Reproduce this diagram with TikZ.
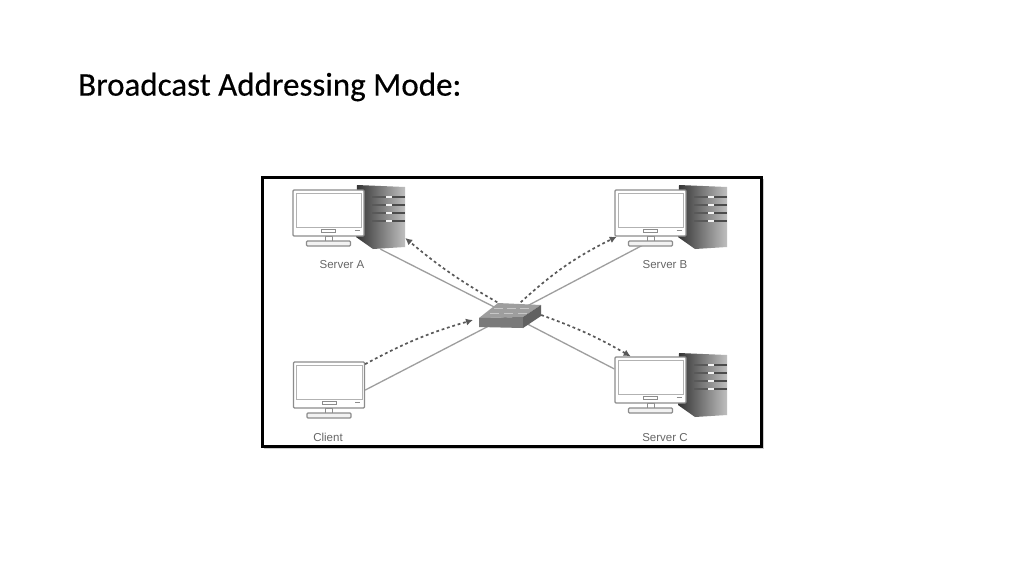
\documentclass[tikz,border=0pt]{standalone}
\usepackage{fontspec}
\setmainfont{Carlito}
\newfontfamily\titlefont[FakeBold=0.35]{Carlito}
\newfontfamily\labelfont{Liberation Sans}
\usetikzlibrary{arrows.meta}
\definecolor{linegray}{gray}{0.62}
\definecolor{framegray}{gray}{0.55}
\definecolor{labelgray}{gray}{0.4}
\tikzset{
	screenbox/.style={draw=framegray, line width=1.3, fill=white, minimum width=71, minimum height=46, inner sep=0, rounded corners=1},
	towerbox/.style={minimum width=49, minimum height=65, inner sep=0},
	switchbox/.style={minimum width=62, minimum height=25, inner sep=0},
	linkline/.style={draw=linegray, line width=1.3},
	bcast/.style={draw=black!65, line width=1.7, dash pattern=on 2.8 off 2.8, -{Latex[length=7,width=7]}},
	hostlabel/.style={text=labelgray, font=\labelfont\fontsize{11.5}{13}\selectfont, inner sep=0, anchor=base},
	pics/stand/.style={code={
		\draw [framegray, line width=1, fill=white] (-3.5,23) rectangle (3.5,29);
		\draw [framegray, line width=1.1, fill=black!5, rounded corners=1] (-22,28) rectangle (22,33);
	}},
	pics/bezel/.style={code={
		\draw [black!30, line width=.7] (-32.5,-20) rectangle (33,14);
		\draw [black!45, line width=.6] (-7,16.5) rectangle (7,19);
		\draw [black!45, line width=.6] (26,17.5) -- (31,17.5);
	}},
	pics/tower/.style={code={
		\shade [left color=black!80, right color=black!25] (1,1) -- (49,3) -- (49,63) -- (17,65) -- (0,53) -- cycle;
		\foreach \y in {13,21,29,37} {
			\draw [black!65, line width=1.2] (16,\y) -- (30,\y);
			\draw [black!5, line width=1.2] (30,\y) -- (36,\y);
			\draw [black!70, line width=1.2] (36,\y) -- (49,\y);
		}
	}}
}

\begin{document}
\begin{tikzpicture}[x=1pt,y=-1pt]
	\useasboundingbox (0,0) rectangle (1024,576);
	\node [anchor=west, inner sep=0, font=\titlefont\fontsize{33}{38}\selectfont] (title) at (78,87) {Broadcast Addressing Mode:};

	\fill [black!20] (264,179) rectangle (764,449);
	\node [draw=black, line width=3, fill=white, minimum width=499, minimum height=269, inner sep=0] (frame) at (512,312) {};

	\node [switchbox] (switch) at (510,315) {};
	\node [towerbox] (towerA) at (380.5,216.5) {};
	\coordinate (baseB) at (643,245);

	% server A
	\pic at (356,184) {tower};
	\draw [linkline] (switch.center) -- (towerA.south);
	\pic at (328.5,213) {stand};
	\node [screenbox] (screenA) at (328.5,213) {};
	\pic at (328.5,213) {bezel};
	\node [hostlabel] (labelA) at (342,268) {Server A};

	% server B
	\pic at (678,184) {tower};
	\draw [linkline] (switch.center) -- (baseB);
	\pic at (650.5,213) {stand};
	\node [screenbox] (screenB) at (650.5,213) {};
	\pic at (650.5,213) {bezel};
	\node [hostlabel] (labelB) at (665,268) {Server B};

	% server C
	\pic at (678,352) {tower};
	\pic at (650.5,380) {stand};
	\node [screenbox] (screenC) at (650.5,380) {};
	\pic at (650.5,380) {bezel};
	\draw [linkline] (switch.center) -- (screenC.163);
	\node [hostlabel] (labelC) at (665,441) {Server C};

	% client
	\pic at (329,385) {stand};
	\node [screenbox] (screenD) at (329,385) {};
	\pic at (329,385) {bezel};
	\draw [linkline] (switch.center) -- (screenD.-8);
	\node [hostlabel] (labelD) at (328,441) {Client};

	% switch
	\fill [black!38] (479,318) -- (498,303) -- (541,305) -- (523,317) -- cycle;
	\fill [black!52] (479,318) -- (523,317) -- (523,328) -- (479,327) -- cycle;
	\fill [black!62] (523,317) -- (541,305) -- (541,316) -- (523,328) -- cycle;
	\foreach \a/\b in {494/308,507/308,520/308,490/313,504/313,518/313} {
		\draw [black!22, line width=.7] (\a,\b) -- ++(9,0);
	}

	% broadcast paths
	\coordinate (tipD) at (473,320);
	\draw [bcast] (switch.135) to[bend left=5] (towerA.-41);
	\draw [bcast] (switch.50) to[bend left=8] (screenB.215);
	\draw [bcast] (switch.east) to[bend left=5] (screenC.130);
	\draw [bcast] (screenD.30) to[bend left=6] (tipD);
\end{tikzpicture}
\end{document}
